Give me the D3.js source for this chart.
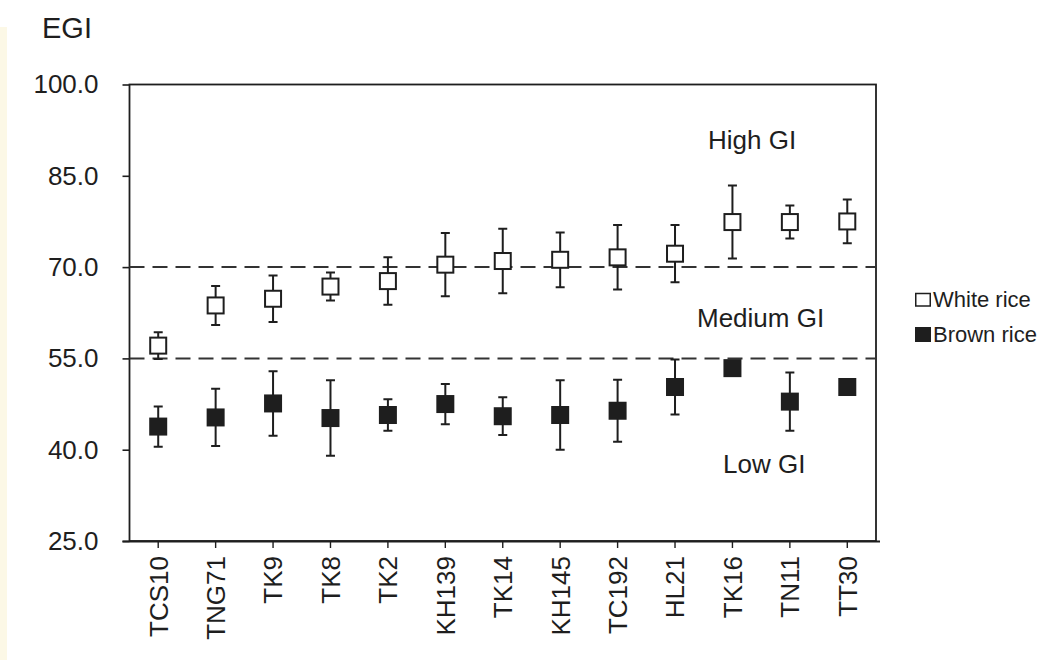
<!DOCTYPE html>
<html>
<head>
<meta charset="utf-8">
<script src="https://cdn.jsdelivr.net/npm/d3@7"></script>
<style>
  body { margin: 0; background: #fff; }
  svg { display: block; font-family: "Liberation Sans", Arial, sans-serif; }
</style>
</head>
<body>
<svg id="chart"></svg>
<script>
const width = 1044;
const height = 660;

// Données
const varieties = ["TCS10", "TNG71", "TK9", "TK8", "TK2", "KH139", "TK14", "KH145", "TC192", "HL21", "TK16", "TN11", "TT30"];
const whiteMean = [57.1, 63.7, 64.8, 66.8, 67.7, 70.4, 71.0, 71.2, 71.6, 72.2, 77.4, 77.4, 77.5];
const whiteErr  = [2.2, 3.2, 3.8, 2.3, 3.9, 5.2, 5.3, 4.5, 5.3, 4.7, 6.0, 2.7, 3.6];
const brownMean = [43.8, 45.3, 47.6, 45.2, 45.7, 47.5, 45.5, 45.7, 46.4, 50.3, 53.4, 47.9, 50.3];
const brownErr  = [3.3, 4.7, 5.3, 6.2, 2.6, 3.3, 3.1, 5.7, 5.1, 4.5, 0.5, 4.8, 0.5];
const yTicks = [25, 40, 55, 70, 85, 100];
const giLimits = [55, 70];
const zoneLabels = ["High GI", "Medium GI", "Low GI"];
const legendLabels = ["White rice", "Brown rice"];

const ink = "#1e1e1e";

const svg = d3.select("#chart")
  .attr("width", width)
  .attr("height", height);

svg.append("rect").attr("width", width).attr("height", height).attr("fill", "#fff");
// bande jaune pâle à gauche
svg.append("rect").attr("x", 0).attr("y", 27).attr("width", 7).attr("height", height - 27).attr("fill", "#fcf8e6");

const plot = { left: 129.5, right: 876, top: 84.5, bottom: 541 };

const x = d3.scaleBand()
  .domain(varieties)
  .range([plot.left, plot.right])
  .padding(0);

const y = d3.scaleLinear()
  .domain([25, 100])
  .range([plot.bottom, plot.top]);

const cx = d => x(d) + x.bandwidth() / 2;

// Cadre
svg.append("rect")
  .attr("x", plot.left).attr("y", plot.top)
  .attr("width", plot.right - plot.left)
  .attr("height", plot.bottom - plot.top)
  .attr("fill", "none")
  .attr("stroke", ink)
  .attr("stroke-width", 1.8);

// Axe Y
const yAxis = svg.append("g")
  .attr("transform", `translate(${plot.left},0)`)
  .call(d3.axisLeft(y).tickValues(yTicks).tickFormat(d3.format(".1f")).tickSize(7).tickPadding(24));
yAxis.select(".domain").remove();
yAxis.selectAll("line").attr("stroke", ink).attr("stroke-width", 1.6);
yAxis.selectAll("text")
  .attr("font-size", 26)
  .attr("fill", ink)
  .attr("font-family", "Liberation Sans, Arial, sans-serif");

// Axe X
const xAxis = svg.append("g")
  .attr("transform", `translate(0,${plot.bottom})`)
  .call(d3.axisBottom(x).tickSize(7).tickSizeOuter(0));
xAxis.select(".domain").attr("d", `M${plot.left - 7},0.5H${plot.right + 4}`).attr("stroke", ink).attr("stroke-width", 1.8);
xAxis.selectAll(".tick line").attr("stroke", ink).attr("stroke-width", 1.4);
xAxis.selectAll("text")
  .attr("font-size", 26)
  .attr("fill", ink)
  .attr("font-family", "Liberation Sans, Arial, sans-serif")
  .attr("text-anchor", "end")
  .attr("transform", "rotate(-90)")
  .attr("x", -15)
  .attr("y", 0)
  .attr("dy", "0.36em");

// Titre axe
svg.append("text")
  .attr("x", 42).attr("y", 38)
  .attr("font-size", 29)
  .attr("fill", ink)
  .text("EGI");

// Lignes pointillées
svg.selectAll("line.gi")
  .data(giLimits)
  .join("line")
  .attr("class", "gi")
  .attr("x1", plot.left).attr("x2", plot.right)
  .attr("y1", d => y(d)).attr("y2", d => y(d))
  .attr("stroke", "#333")
  .attr("stroke-width", 2)
  .attr("stroke-dasharray", "15,8");

// Libellés de zones
const zonePos = [[708, 149], [697, 327], [723, 473]];
svg.selectAll("text.zone")
  .data(zoneLabels)
  .join("text")
  .attr("class", "zone")
  .attr("x", (d, i) => zonePos[i][0])
  .attr("y", (d, i) => zonePos[i][1])
  .attr("font-size", 26)
  .attr("fill", ink)
  .text(d => d);

const series = [
  { mean: whiteMean, err: whiteErr, fill: "#fff" },
  { mean: brownMean, err: brownErr, fill: ink }
];

const sq = 18;
const cap = 4.5;

series.forEach(s => {
  const g = svg.append("g");
  const pts = varieties.map((v, i) => ({ v, m: s.mean[i], e: s.err[i] }));
  const hollow = s.fill === "#fff";

  // Barres d'erreur
  g.selectAll("path.err")
    .data(pts)
    .join("path")
    .attr("class", "err")
    .attr("d", d => {
      const xc = cx(d.v), y1 = y(d.m + d.e), y2 = y(d.m - d.e);
      return `M${xc},${y1}V${y2}M${xc - cap},${y1}H${xc + cap}M${xc - cap},${y2}H${xc + cap}`;
    })
    .attr("fill", "none")
    .attr("stroke", ink)
    .attr("stroke-width", 2);

  // Carrés
  g.selectAll("rect")
    .data(pts)
    .join("rect")
    .attr("x", d => cx(d.v) - sq / 2 + (hollow ? 1 : 0))
    .attr("y", d => y(d.m) - sq / 2 + (hollow ? 1 : 0))
    .attr("width", hollow ? sq - 2 : sq)
    .attr("height", hollow ? sq - 2 : sq)
    .attr("fill", s.fill)
    .attr("stroke", hollow ? ink : "none")
    .attr("stroke-width", 2);
});

// Légende
const legend = svg.append("g").attr("transform", "translate(915,0)");
const legY = [307, 342];
legend.selectAll("rect")
  .data(legendLabels)
  .join("rect")
  .attr("x", (d, i) => i === 0 ? 0.75 : 0)
  .attr("y", (d, i) => i === 0 ? legY[i] - 13.5 : legY[i] - 15)
  .attr("width", (d, i) => i === 0 ? 14.5 : 16)
  .attr("height", (d, i) => i === 0 ? 12.5 : 15)
  .attr("fill", (d, i) => i === 0 ? "#fff" : ink)
  .attr("stroke", (d, i) => i === 0 ? ink : "none")
  .attr("stroke-width", 1.5);
legend.selectAll("text")
  .data(legendLabels)
  .join("text")
  .attr("x", 18)
  .attr("y", (d, i) => legY[i])
  .attr("font-size", 22)
  .attr("fill", ink)
  .text(d => d);
</script>
</body>
</html>
